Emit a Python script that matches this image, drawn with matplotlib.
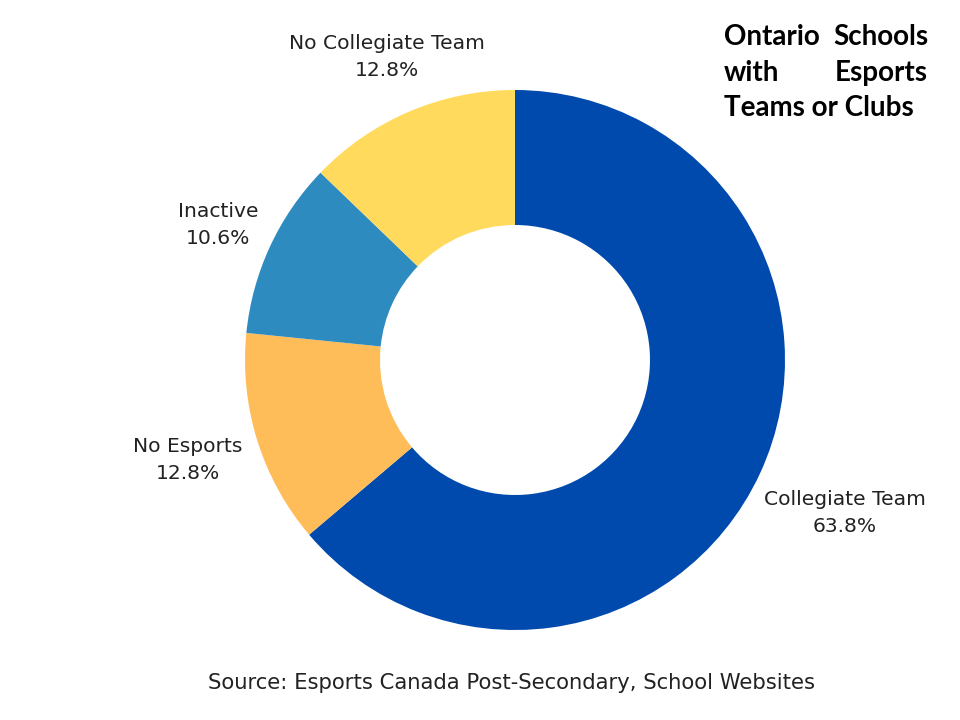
import matplotlib.pyplot as plt

labels = ['Collegiate Team', 'No Esports', 'Inactive', 'No Collegiate Team']
shares = [63.8, 12.8, 10.6, 12.8]
colors = ['#004AAD', '#FFBD59', '#2E8BC0', '#FFDA5C']

# label centres, in pie units (radius 1)
label_pos = [(1.222, -0.567), (-1.211, -0.370), (-1.100, 0.500), (-0.474, 1.122)]

fig = plt.figure(figsize=(9.6, 7.2), dpi=100)
ax = fig.add_axes([0.2552, 0.125, 0.5625, 0.75])
ax.pie(shares, colors=colors, startangle=90, counterclock=False, radius=1,
       wedgeprops=dict(width=0.5, edgecolor='none'))
ax.set_xlim(-1, 1)
ax.set_ylim(-1, 1)
ax.set_aspect('equal')
ax.axis('off')

for name, val, (x, y) in zip(labels, shares, label_pos):
    ax.text(x, y, f'{name}\n{val}%', ha='center', va='center', fontsize=14.6,
            color='#222222', linespacing=1.55, clip_on=False)

# justified title, top right
tfont = dict(fontsize=20, fontweight='bold', family='Lato', color='black', va='center')
fig.text(724/960, 1 - 37/720, 'Ontario', ha='left', **tfont)
fig.text(928/960, 1 - 37/720, 'Schools', ha='right', **tfont)
fig.text(724/960, 1 - 73/720, 'with', ha='left', **tfont)
fig.text(928/960, 1 - 73/720, 'Esports', ha='right', **tfont)
fig.text(724/960, 1 - 108/720, 'Teams or Clubs', ha='left', **tfont)

fig.text(512/960, 1 - 683/720, 'Source: Esports Canada Post-Secondary, School Websites',
         ha='center', va='center', fontsize=15.2, color='#222222')

fig.savefig('out.png', dpi=100, facecolor='white')
